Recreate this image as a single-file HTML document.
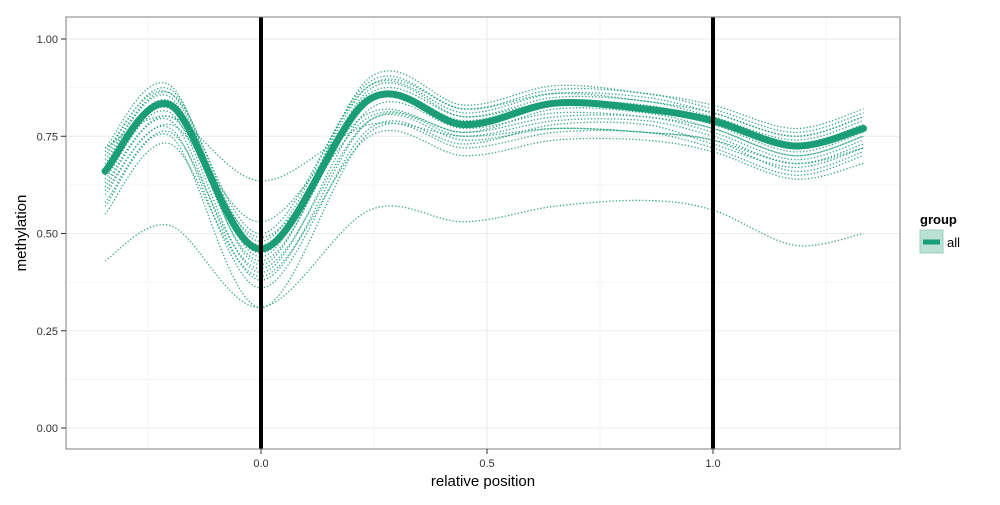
<!DOCTYPE html>
<html><head><meta charset="utf-8"><style>
body{margin:0;background:#fff;font-family:"Liberation Sans",sans-serif}
svg text{font-family:"Liberation Sans",sans-serif}
</style></head><body>
<svg id="chart" width="1000" height="500" viewBox="0 0 1000 500">
<g id="grid"></g>
<g id="series"></g>
<line x1="261" y1="17" x2="261" y2="449" stroke="#000" stroke-width="4"/>
<line x1="713" y1="17" x2="713" y2="449" stroke="#000" stroke-width="4"/>
<rect x="66" y="17" width="834" height="432" fill="none" stroke="#7f7f7f" stroke-width="1"/>
<g id="axes"></g>
<text x="483" y="486" text-anchor="middle" font-size="15">relative position</text>
<text transform="translate(26,233) rotate(-90)" text-anchor="middle" font-size="15">methylation</text>
<g>
<text x="920" y="224" font-size="13" font-weight="bold">group</text>
<rect x="920" y="230" width="23" height="23" fill="#b9e1d4" stroke="#9fcfc0"/>
<line x1="923" y1="242" x2="940" y2="242" stroke="#1b9e77" stroke-width="5"/>
<text x="947" y="247" font-size="13">all</text>
</g>
</svg>
<script>
const positions=[-0.345,-0.2,0,0.24,0.45,0.65,0.85,1.0,1.18,1.333];
const meanSeries=[0.66,0.83,0.46,0.845,0.78,0.835,0.82,0.79,0.725,0.77];
const sampleSeries=[
[0.70,0.87,0.48,0.89,0.82,0.87,0.86,0.82,0.76,0.81],
[0.72,0.88,0.44,0.90,0.83,0.88,0.86,0.83,0.77,0.82],
[0.69,0.86,0.50,0.88,0.81,0.86,0.85,0.81,0.75,0.80],
[0.68,0.85,0.42,0.87,0.80,0.85,0.84,0.80,0.74,0.79],
[0.67,0.84,0.47,0.86,0.80,0.84,0.83,0.79,0.73,0.78],
[0.66,0.83,0.45,0.85,0.79,0.84,0.82,0.79,0.72,0.77],
[0.65,0.82,0.43,0.84,0.78,0.83,0.82,0.78,0.71,0.76],
[0.64,0.81,0.40,0.82,0.77,0.81,0.80,0.77,0.70,0.75],
[0.63,0.80,0.49,0.80,0.76,0.80,0.80,0.76,0.69,0.74],
[0.62,0.79,0.38,0.79,0.75,0.79,0.79,0.75,0.68,0.73],
[0.60,0.77,0.36,0.77,0.73,0.78,0.78,0.73,0.67,0.72],
[0.58,0.76,0.41,0.79,0.74,0.77,0.76,0.74,0.66,0.71],
[0.57,0.75,0.31,0.76,0.72,0.76,0.76,0.72,0.65,0.70],
[0.55,0.73,0.39,0.75,0.70,0.74,0.74,0.71,0.64,0.68],
[0.61,0.78,0.53,0.81,0.76,0.82,0.81,0.77,0.70,0.75],
[0.71,0.86,0.46,0.88,0.82,0.86,0.84,0.81,0.75,0.80],
[0.72,0.80,0.635,0.78,0.75,0.77,0.76,0.74,0.68,0.72],
[0.43,0.52,0.31,0.56,0.53,0.57,0.585,0.56,0.47,0.50]
];
const xTicks=[0,0.5,1];
const xTickLabels=["0.0","0.5","1.0"];
const xMinor=[-0.25,0.25,0.75,1.25];
const yTicks=[0,0.25,0.5,0.75,1];
const yTickLabels=["0.00","0.25","0.50","0.75","1.00"];
const yMinor=[0.125,0.375,0.625,0.875];
const X=v=>261+v*452, Y=v=>428-v*389;
const NS="http://www.w3.org/2000/svg";
function mk(tag,attrs,parent){const e=document.createElementNS(NS,tag);for(const k in attrs)e.setAttribute(k,attrs[k]);parent.appendChild(e);return e;}
const grid=document.getElementById('grid'),axes=document.getElementById('axes'),ser=document.getElementById('series');
xMinor.forEach(v=>{const l=mk('line',{x1:X(v),x2:X(v),y1:17,y2:449,stroke:'#f5f5f5','stroke-width':1},grid);

});
yMinor.forEach(v=>{const l=mk('line',{x1:66,x2:900,y1:Y(v),y2:Y(v),stroke:'#f5f5f5','stroke-width':1},grid);

});
xTicks.forEach((v,i)=>{const l=mk('line',{x1:X(v),x2:X(v),y1:17,y2:449,stroke:'#ebebeb','stroke-width':1},grid);


const t=mk('line',{x1:X(v),x2:X(v),y1:449,y2:454,stroke:'#333'},axes);


const tx=mk('text',{x:X(v),y:467,'text-anchor':'middle','font-size':11,fill:'#333'},axes);tx.textContent=xTickLabels[i];

});
yTicks.forEach((v,i)=>{const l=mk('line',{x1:66,x2:900,y1:Y(v),y2:Y(v),stroke:'#ebebeb','stroke-width':1},grid);


const t=mk('line',{x1:61,x2:66,y1:Y(v),y2:Y(v),stroke:'#333'},axes);


const tx=mk('text',{x:58,y:Y(v)+4,'text-anchor':'end','font-size':11,fill:'#333'},axes);tx.textContent=yTickLabels[i];

});
function pathFor(vals){const p=vals.map((v,i)=>[X(positions[i]),Y(v)]);let d=`M${p[0][0]},${p[0][1]}`;
for(let i=0;i<p.length-1;i++){const p0=p[i-1]||p[i],p1=p[i],p2=p[i+1],p3=p[i+2]||p[i+1];
const c1=[p1[0]+(p2[0]-p0[0])/6,p1[1]+(p2[1]-p0[1])/6],c2=[p2[0]-(p3[0]-p1[0])/6,p2[1]-(p3[1]-p1[1])/6];
d+=` C${c1[0]},${c1[1]} ${c2[0]},${c2[1]} ${p2[0]},${p2[1]}`;}return d;}
sampleSeries.forEach((s,i)=>{const e=mk('path',{d:pathFor(s),fill:'none',stroke:'#1b9e77','stroke-width':1.3,'stroke-dasharray':'1.3,2','stroke-opacity':0.9},ser);

});
const m=mk('path',{d:pathFor(meanSeries),fill:'none',stroke:'#1b9e77','stroke-width':7,'stroke-linecap':'round'},ser);


</script>
</body></html>
